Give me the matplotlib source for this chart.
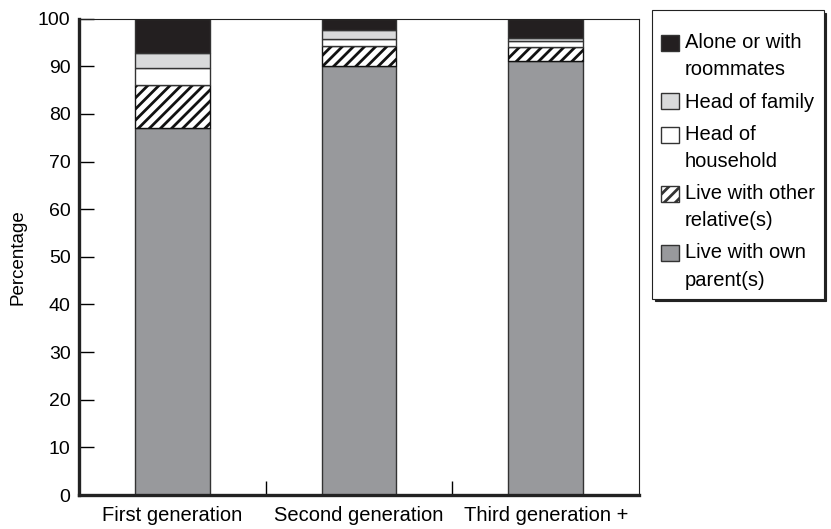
import numpy as np
import matplotlib
matplotlib.use('Agg')
import matplotlib.pyplot as plt
import matplotlib.patches as mpatches
from matplotlib.legend_handler import HandlerPatch

plt.rcParams['font.family'] = ['Liberation Sans', 'DejaVu Sans']
plt.rcParams['hatch.linewidth'] = 2.0

# data (percent)
generations = ['First generation', 'Second generation', 'Third generation +']
own_parents = [77.0, 90.1, 91.1]
other_relatives = [9.0, 4.1, 2.9]
head_household = [3.6, 1.5, 1.2]
head_family = [3.2, 1.8, 0.7]
alone_roommates = [7.2, 2.5, 4.1]

series = [
    ('Live with own\nparent(s)', own_parents, '#98999c', None),
    ('Live with other\nrelative(s)', other_relatives, 'white', '///'),
    ('Head of\nhousehold', head_household, 'white', None),
    ('Head of family', head_family, '#d9dadb', None),
    ('Alone or with\nroommates', alone_roommates, '#231f20', None),
]

LEG_FS = 14.5
LEG_LS = 1.55


class TopHandler(HandlerPatch):
    # put the square next to the first line of a two-line label
    def __init__(self, nlines, **kw):
        super().__init__(**kw)
        self.shift = 0.5 * (nlines - 1) * LEG_FS * LEG_LS * 0.88

    def _create_patch(self, legend, orig_handle, xdescent, ydescent,
                      width, height, fontsize):
        return mpatches.Rectangle((-xdescent, -ydescent + self.shift),
                                  width, height)


fig = plt.figure(figsize=(8.31, 5.29), dpi=100)
ax = fig.add_axes([0.095, 0.064, 0.674, 0.901])

x = np.arange(len(generations))
bottom = np.zeros(len(generations))
handles = []
hmap = {}
for label, vals, color, hatch in series:
    ec = '#111111' if hatch else '#333333'
    ax.bar(x, vals, width=0.4, bottom=bottom, color=color, hatch=hatch,
           edgecolor=ec, linewidth=1.0)
    h = mpatches.Patch(facecolor=color, hatch=hatch, edgecolor='#333333',
                       linewidth=1.0)
    handles.append(h)
    hmap[h] = TopHandler(label.count('\n') + 1)
    bottom += np.array(vals)

ax.set_xlim(-0.5, 2.5)
ax.set_ylim(0, 100)
ax.set_yticks(range(0, 101, 10))
ax.tick_params(axis='y', direction='in', length=11, width=1, labelsize=14, pad=6)
ax.set_ylabel('Percentage', fontsize=13.5, labelpad=8)

# category separators as inward ticks, labels at centres
ax.set_xticks([0.5, 1.5])
ax.set_xticklabels(['', ''])
ax.tick_params(axis='x', which='major', direction='in', length=10, width=1)
ax.set_xticks(x, minor=True)
ax.set_xticklabels(generations, minor=True, fontsize=14.5)
ax.tick_params(axis='x', which='minor', length=0, pad=8)

ax.spines['bottom'].set_linewidth(2.4)
ax.spines['left'].set_linewidth(2.4)
ax.spines['top'].set_linewidth(0.8)
ax.spines['right'].set_linewidth(0.8)
for s in ax.spines.values():
    s.set_color('#222222')

leg = ax.legend(handles[::-1], [s[0] for s in series][::-1],
                handler_map=hmap, title=' ', title_fontsize=1,
                loc='upper left', bbox_to_anchor=(0.785, 0.981),
                bbox_transform=fig.transFigure, borderaxespad=0,
                fontsize=LEG_FS, frameon=True, fancybox=False,
                shadow={'color': '#222222', 'alpha': 1.0, 'ox': 2, 'oy': -2},
                handlelength=0.85, handleheight=0.85, handletextpad=0.3,
                labelspacing=0.65, borderpad=0.45)
for t in leg.get_texts():
    t.set_linespacing(LEG_LS)
leg.get_frame().set_edgecolor('#222222')
leg.get_frame().set_linewidth(0.8)

plt.savefig('out.png', dpi=100)
